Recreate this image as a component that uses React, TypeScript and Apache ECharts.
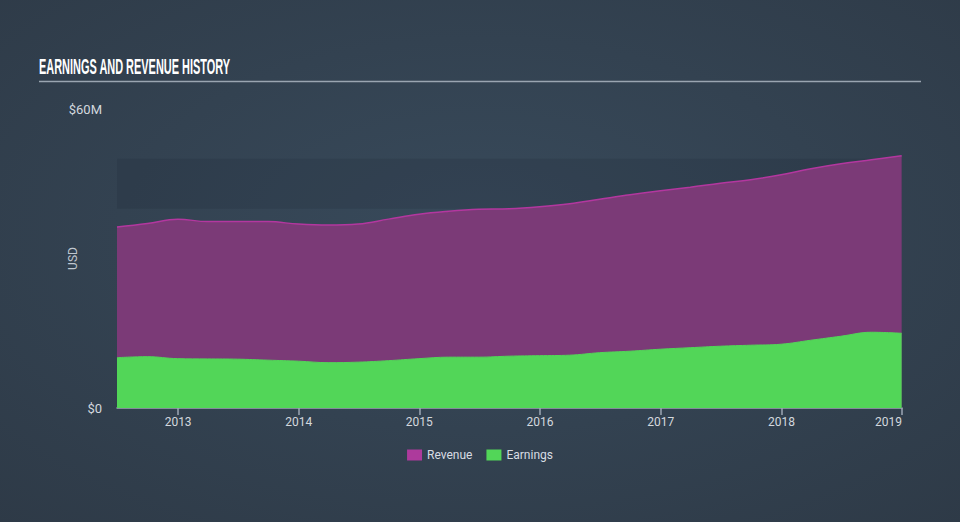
import React, { useEffect, useRef } from "react";
import * as echarts from "echarts";

const dates = [
  "2012-06-30", "2012-09-30", "2012-12-31",
  "2013-03-31", "2013-06-30", "2013-09-30", "2013-12-31",
  "2014-03-31", "2014-06-30", "2014-09-30", "2014-12-31",
  "2015-03-31", "2015-06-30", "2015-09-30", "2015-12-31",
  "2016-03-31", "2016-06-30", "2016-09-30", "2016-12-31",
  "2017-03-31", "2017-06-30", "2017-09-30", "2017-12-31",
  "2018-03-31", "2018-06-30", "2018-09-30", "2018-12-31",
];
// values in USD millions
const revenue = [
  36.3, 37.0, 37.9, 37.4, 37.4, 37.4, 36.9, 36.7, 36.9, 37.9, 38.9, 39.5, 39.9, 40.0,
  40.4, 41.0, 41.9, 42.8, 43.6, 44.3, 45.1, 45.8, 46.8, 48.0, 49.0, 49.8, 50.6,
];
const earnings = [
  10.1, 10.3, 9.9, 9.85, 9.8, 9.6, 9.4, 9.1, 9.2, 9.5, 9.9, 10.2, 10.2, 10.4,
  10.5, 10.6, 11.1, 11.4, 11.8, 12.1, 12.4, 12.6, 12.8, 13.6, 14.4, 15.2, 15.0,
];
const bandRange = [40, 50];
const yTicks = [0, 60];
const seriesNames = ["Revenue", "Earnings"];
const titleText = "EARNINGS AND REVENUE HISTORY";

export default function App() {
  const ref = useRef<HTMLDivElement>(null);
  useEffect(() => {
    if (!ref.current) return;
    const chart = echarts.init(ref.current, undefined, { renderer: "svg" });
    const YEAR = 365 * 24 * 3600 * 1000;
    chart.setOption({
      animation: false,
      backgroundColor: new echarts.graphic.RadialGradient(0.5, 0.45, 0.75, [
        { offset: 0, color: "#384a5b" },
        { offset: 1, color: "#2e3a47" },
      ]),
      graphic: [
        {
          type: "text",
          x: 39,
          y: 56,
          scaleX: 0.73,
          scaleY: 1.45,
          style: {
            text: titleText,
            font: 'bold 15px "Liberation Sans", Arial, sans-serif',
            fill: "#ffffff",
            textAlign: "left",
            textVerticalAlign: "top",
          },
        },
        {
          type: "line",
          shape: { x1: 39, y1: 81.5, x2: 921, y2: 81.5 },
          style: { stroke: "#9aa5b1", lineWidth: 1.5 },
        },
      ],
      legend: {
        data: seriesNames,
        top: 444,
        left: "center",
        icon: "rect",
        itemWidth: 15,
        itemHeight: 11,
        itemGap: 14,
        textStyle: { color: "#d8dde3", fontSize: 12, fontFamily: "Roboto" },
      },
      grid: { left: 117, right: 58, top: 109, bottom: 114 },
      xAxis: {
        type: "time",
        min: "2012-06-30",
        max: "2019-01-01",
        minInterval: YEAR,
        maxInterval: YEAR,
        axisLine: { lineStyle: { color: "#9ea7b5", width: 1.5 } },
        axisTick: { show: true, length: 7, lineStyle: { color: "#9ea7b5", width: 1.5 } },
        axisLabel: {
          color: "#d3d8de",
          fontSize: 12,
          fontFamily: "Roboto",
          margin: 8,
          formatter: (v: number) => String(new Date(v).getFullYear()),
          showMinLabel: false,
          showMaxLabel: true,
          alignMaxLabel: "right",
        },
        splitLine: { show: false },
      },
      yAxis: {
        type: "value",
        min: yTicks[0],
        max: yTicks[1],
        interval: yTicks[1] - yTicks[0],
        name: "USD",
        nameLocation: "middle",
        nameRotate: 90,
        nameGap: 38,
        nameMoveOverlap: false,
        nameTextStyle: { color: "#c0c7cf", fontSize: 12, fontFamily: "Roboto" },
        axisLine: { show: false },
        axisTick: { show: false },
        splitLine: { show: false },
        axisLabel: {
          color: "#d3d8de",
          fontSize: 13,
          fontFamily: "Roboto",
          margin: 15,
          formatter: (v: number) => (v === 0 ? "$0" : "$" + v + "M"),
        },
      },
      series: [
        {
          name: seriesNames[0],
          type: "line",
          smooth: 0.4,
          symbol: "none",
          data: dates.map((d, i) => [d, revenue[i]]),
          lineStyle: { color: "#b3379f", width: 1.5 },
          itemStyle: { color: "#ad3a9c" },
          areaStyle: { color: "#7b3a77", opacity: 1 },
          markArea: {
            silent: true,
            itemStyle: { color: "rgba(30,42,54,0.2)" },
            data: [[{ yAxis: bandRange[0] }, { yAxis: bandRange[1] }]],
          },
          z: 2,
        },
        {
          name: seriesNames[1],
          type: "line",
          smooth: 0.4,
          symbol: "none",
          data: dates.map((d, i) => [d, earnings[i]]),
          lineStyle: { color: "#52d658", width: 1 },
          itemStyle: { color: "#52d658" },
          areaStyle: { color: "#52d658", opacity: 1 },
          z: 3,
        },
      ],
    });
    return () => chart.dispose();
  }, []);
  return (
    <div
      ref={ref}
      style={{ position: "absolute", left: 0, top: 0, width: 960, height: 522 }}
    />
  );
}
